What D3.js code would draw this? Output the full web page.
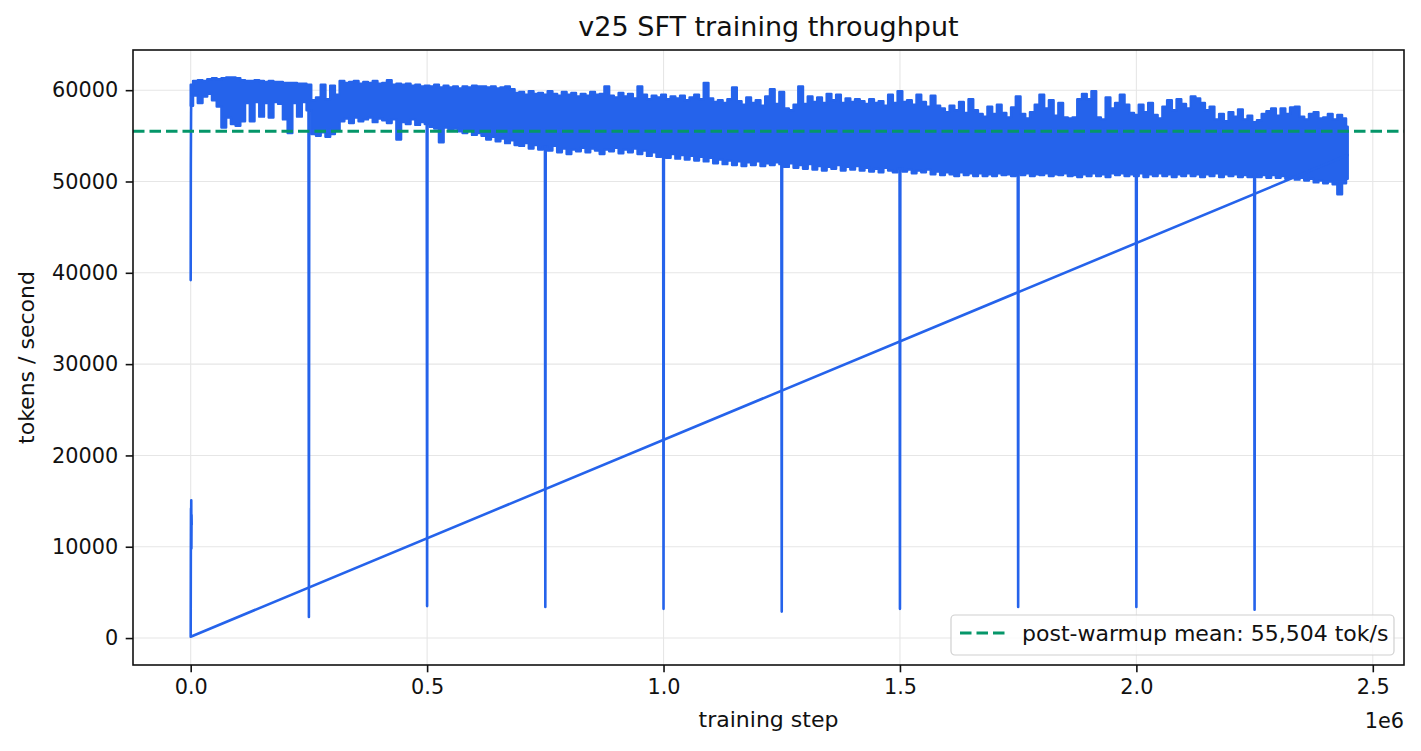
<!DOCTYPE html>
<html>
<head>
<meta charset="utf-8">
<script src="https://cdn.jsdelivr.net/npm/d3@7"></script>
<style>
  body { margin: 0; background: #fff; }
  svg { font-family: "DejaVu Sans", sans-serif; }
</style>
</head>
<body>
<script>
// Données (tok/s, en milliers pour la bande)
const binSize = 10000;       // pas d'échantillonnage de l'enveloppe
const lastStep = 2447000;    // dernier pas de la course principale
const lastVal = 52900;

// enveloppe haute de la bande bruitée (milliers tok/s), une valeur tous les 10k pas
const bandHi = [
  60.6, 61.0, 61.1, 61.0, 61.2, 61.3, 61.2, 61.3, 61.4, 61.4,
  61.3, 61.1, 61.0, 61.0, 61.1, 61.0, 60.9, 61.0, 60.9, 60.9,
  60.8, 60.8, 60.8, 60.7, 60.7, 60.6, 58.9, 59.2, 60.6, 59.0,
  60.5, 59.5, 61.0, 60.8, 60.9, 61.0, 60.7, 60.9, 60.8, 61.0,
  60.7, 60.8, 61.1, 60.6, 60.7, 60.6, 60.7, 60.5, 60.6, 60.4,
  60.5, 60.4, 60.6, 60.3, 60.5, 60.3, 60.4, 60.2, 60.4, 60.3,
  60.5, 60.4, 60.4, 60.3, 60.4, 60.2, 60.3, 60.4, 60.1, 59.7,
  59.8, 59.5, 59.9, 59.6, 59.7, 59.5, 59.9, 59.6, 59.4, 59.8,
  59.5, 59.7, 59.3, 59.6, 59.4, 59.8, 59.5, 59.6, 60.4, 59.4,
  59.2, 59.7, 59.3, 59.6, 59.1, 60.4, 59.5, 59.0, 59.4, 59.2,
  59.5, 59.0, 59.3, 59.1, 59.4, 58.9, 59.2, 59.5, 59.0, 60.8,
  59.1, 58.7, 58.9, 58.6, 59.0, 60.3, 58.8, 58.4, 59.2, 58.6,
  58.9, 58.3, 59.3, 60.1, 58.5, 59.8, 58.0, 57.8, 58.4, 60.4,
  58.5, 59.3, 58.7, 59.2, 58.6, 59.6, 58.9, 59.5, 58.6, 59.1,
  58.7, 59.0, 58.8, 58.5, 59.0, 58.6, 58.8, 58.3, 59.5, 58.6,
  59.9, 58.7, 58.9, 58.4, 59.5, 58.7, 58.2, 59.4, 58.3, 58.0,
  57.6, 58.3, 57.8, 58.7, 57.5, 59.0, 57.8, 57.4, 57.1, 58.2,
  57.4, 58.4, 57.5, 57.0, 58.1, 59.3, 57.4, 56.9, 57.6, 58.4,
  59.5, 58.0, 58.9, 57.2, 58.6, 57.0, 56.9, 57.0, 59.0, 59.6,
  59.0, 59.9, 57.0, 56.8, 59.2, 58.0, 58.6, 59.5, 58.4, 57.5,
  57.3, 58.4, 57.6, 58.6, 57.3, 56.9, 58.2, 58.9, 57.8, 59.0,
  58.5, 58.0, 59.3, 59.1, 58.6, 57.8, 58.2, 56.8, 57.4, 56.6,
  57.6, 57.1, 57.9, 56.8, 57.2, 56.5, 56.7, 57.4, 57.7, 58.0,
  57.2, 58.0, 57.4, 58.1, 58.2, 57.1, 56.8, 57.4, 57.6, 56.9,
  57.0, 57.4, 56.8, 57.3, 56.9, 56.0
];

// enveloppe basse de la bande
const bandLo = [
  58.3, 59.4, 58.6, 59.3, 59.6, 58.9, 58.2, 55.9, 57.0, 56.3,
  56.1, 56.6, 58.6, 56.6, 58.7, 57.1, 58.6, 57.0, 58.7, 58.5,
  56.8, 55.3, 58.6, 57.1, 58.7, 57.8, 55.2, 55.0, 55.4, 54.9,
  55.2, 55.6, 56.6, 56.9, 56.4, 57.0, 56.6, 56.8, 57.0, 56.5,
  56.9, 56.7, 56.4, 56.8, 54.6, 56.5, 56.3, 56.8, 56.2, 56.5,
  56.3, 56.0, 55.8, 54.3, 55.9, 55.6, 55.8, 55.5, 55.3, 55.6,
  55.1, 55.3, 55.0, 54.6, 54.9, 54.4, 54.7, 54.2, 54.5, 54.0,
  53.9, 54.2, 53.6, 54.0, 53.5, 53.8, 53.4, 53.9, 53.2, 53.6,
  53.0, 53.5, 53.3, 53.7, 53.2, 53.6, 53.4, 53.0, 53.5, 53.3,
  53.7, 53.1, 53.5, 53.2, 53.6, 53.0, 53.4, 52.8, 53.2, 52.7,
  53.1, 52.6, 53.0, 52.5, 52.9, 52.4, 52.8, 52.3, 52.7, 52.2,
  52.6, 52.0, 52.4, 51.9, 52.3, 51.8, 52.2, 51.7, 52.1, 51.8,
  52.2, 51.7, 52.0, 51.8, 52.1, 51.9, 51.6, 52.0, 51.5, 51.8,
  51.4, 51.9, 51.3, 51.7, 51.2, 51.6, 51.4, 51.8, 51.2, 51.6,
  51.3, 51.7, 51.2, 51.5, 51.1, 51.4, 51.0, 51.5, 51.2, 51.0,
  51.4, 51.1, 51.3, 50.9, 51.2, 51.0, 51.3, 50.8, 51.1, 50.7,
  51.0, 50.8, 50.6, 51.0, 50.7, 50.9, 50.6, 50.9, 50.6, 50.8,
  50.6, 50.9, 50.7, 50.8, 50.6, 50.9, 50.7, 50.9, 50.6, 50.8,
  50.7, 50.9, 50.6, 50.8, 50.7, 50.9, 50.6, 50.7, 50.5, 50.8,
  50.6, 50.9, 50.6, 50.8, 50.5, 50.9, 50.7, 50.9, 50.6, 50.8,
  50.6, 50.9, 50.5, 50.8, 50.6, 50.9, 50.6, 50.8, 50.5, 50.8,
  50.6, 50.9, 50.6, 50.8, 50.5, 50.8, 50.6, 50.9, 50.5, 50.8,
  50.6, 50.8, 50.5, 50.7, 50.5, 50.8, 50.5, 50.7, 50.4, 50.7,
  50.4, 50.6, 50.3, 50.5, 50.2, 50.4, 50.1, 50.3, 49.9, 50.1,
  49.8, 50.0, 49.7, 48.6, 49.8, 50.3
];

// chutes périodiques (checkpoints)
const dipSteps = [250000, 500000, 750000, 1000000, 1250000, 1500000, 1750000, 2000000, 2250000];
const dipLows  = [2300, 3500, 3400, 3200, 2900, 3200, 3400, 3400, 3100];

// montée en régime au début de la course principale
const warmupSteps = [0, 300, 800, 1500, 3000, 5000];
const warmupVals  = [39200, 52000, 57500, 59800, 60500, 60600];

// seconde course (redémarrage) : point à ~0 puis paquet 9k-15k
const restartSteps = [0, 300, 600, 900, 1200, 1500, 1800, 2100];
const restartVals  = [150, 9100, 14200, 11000, 15100, 9800, 13500, 12400];

const meanVal = 55504;
const yTicks = [0, 10000, 20000, 30000, 40000, 50000, 60000];
const xTicks = [0, 500000, 1000000, 1500000, 2000000, 2500000];

const width = 1421, height = 751;
const mLeft = 133, mRight = 1404, mTop = 50, mBottom = 665;
const blue = "#2563eb", green = "#059669";
const fs = 20.8, fsLabel = 22;

const svg = d3.select("body").append("svg")
  .attr("width", width).attr("height", height);

const x = d3.scaleLinear().domain([-122000, 2566000]).range([mLeft, mRight]);
const y = d3.scaleLinear().domain([-2950, 64400]).range([mBottom, mTop]);

// grille
const grid = svg.append("g").attr("stroke", "#e6e6e6").attr("stroke-width", 1.1);
grid.selectAll(".gx").data(xTicks).join("line")
  .attr("x1", d => x(d)).attr("x2", d => x(d)).attr("y1", mTop).attr("y2", mBottom);
grid.selectAll(".gy").data(yTicks).join("line")
  .attr("y1", d => y(d)).attr("y2", d => y(d)).attr("x1", mLeft).attr("x2", mRight);

const plot = svg.append("g");
const stepAt = i => Math.min(i * binSize, lastStep);

// bande bruitée
const band = bandHi.map((h, i) => ({ s: stepAt(i), hi: h * 1000, lo: bandLo[i] * 1000 }));
plot.append("path").datum(band)
  .attr("d", d3.area().curve(d3.curveStep).x(d => x(d.s)).y0(d => y(d.lo)).y1(d => y(d.hi)))
  .attr("fill", blue).attr("stroke", blue)
  .attr("stroke-width", 2.4).attr("stroke-linejoin", "round");

const line = d3.line().x(d => x(d[0])).y(d => y(d[1]));
const drawLine = pts => plot.append("path").datum(pts)
  .attr("d", line).attr("fill", "none").attr("stroke", blue)
  .attr("stroke-width", 2.6).attr("stroke-linejoin", "round").attr("stroke-linecap", "round");

// chutes
dipSteps.forEach((s, k) => {
  const base = bandLo[Math.round(s / binSize)] * 1000;
  drawLine([[s - 800, base], [s, dipLows[k]], [s + 800, base]]);
});

// montée initiale
drawLine(warmupSteps.map((s, i) => [s, warmupVals[i]]));

// fin de course -> redémarrage (ligne diagonale)
drawLine([[lastStep, lastVal]].concat(restartSteps.map((s, i) => [s, restartVals[i]])));

// moyenne après warmup
svg.append("line")
  .attr("x1", mLeft).attr("x2", mRight).attr("y1", y(meanVal)).attr("y2", y(meanVal))
  .attr("stroke", green).attr("stroke-width", 3).attr("stroke-dasharray", "11.5,5");

// axes
const xAxis = svg.append("g").attr("transform", `translate(0,${mBottom})`)
  .call(d3.axisBottom(x).tickValues(xTicks).tickSize(7.3).tickPadding(7)
    .tickFormat(d => d3.format(".1f")(d / 1e6)));
const yAxis = svg.append("g").attr("transform", `translate(${mLeft},0)`)
  .call(d3.axisLeft(y).tickValues(yTicks).tickSize(7.3).tickPadding(7.5)
    .tickFormat(d3.format("d")));
[xAxis, yAxis].forEach(a => {
  a.select(".domain").remove();
  a.selectAll("line").attr("stroke", "#111").attr("stroke-width", 1.6);
  a.selectAll("text").attr("font-size", fs).attr("fill", "#111")
    .attr("font-family", "DejaVu Sans");
});

svg.append("rect")
  .attr("x", mLeft).attr("y", mTop).attr("width", mRight - mLeft).attr("height", mBottom - mTop)
  .attr("fill", "none").attr("stroke", "#111").attr("stroke-width", 1.6);

// textes
svg.append("text").attr("x", (mLeft + mRight) / 2).attr("y", 36)
  .attr("text-anchor", "middle").attr("font-size", 27).attr("fill", "#111")
  .text("v25 SFT training throughput");
svg.append("text").attr("x", (mLeft + mRight) / 2).attr("y", 727)
  .attr("text-anchor", "middle").attr("font-size", fsLabel).attr("fill", "#111")
  .text("training step");
svg.append("text").attr("transform", `translate(34,${(mTop + mBottom) / 2}) rotate(-90)`)
  .attr("text-anchor", "middle").attr("font-size", fsLabel).attr("fill", "#111")
  .text("tokens / second");
svg.append("text").attr("x", mRight).attr("y", 728)
  .attr("text-anchor", "end").attr("font-size", fs).attr("fill", "#111")
  .text("1e6");

// légende
const leg = svg.append("g");
leg.append("rect").attr("x", 951).attr("y", 615).attr("width", 443).attr("height", 40)
  .attr("rx", 4).attr("fill", "#fff").attr("fill-opacity", 0.8)
  .attr("stroke", "#d0d0d0").attr("stroke-width", 1.2);
leg.append("line").attr("x1", 960).attr("x2", 1006).attr("y1", 633).attr("y2", 633)
  .attr("stroke", green).attr("stroke-width", 3).attr("stroke-dasharray", "11.5,5");
leg.append("text").attr("x", 1022).attr("y", 641).attr("font-size", fsLabel).attr("fill", "#111")
  .text("post-warmup mean: 55,504 tok/s");
</script>
</body>
</html>
